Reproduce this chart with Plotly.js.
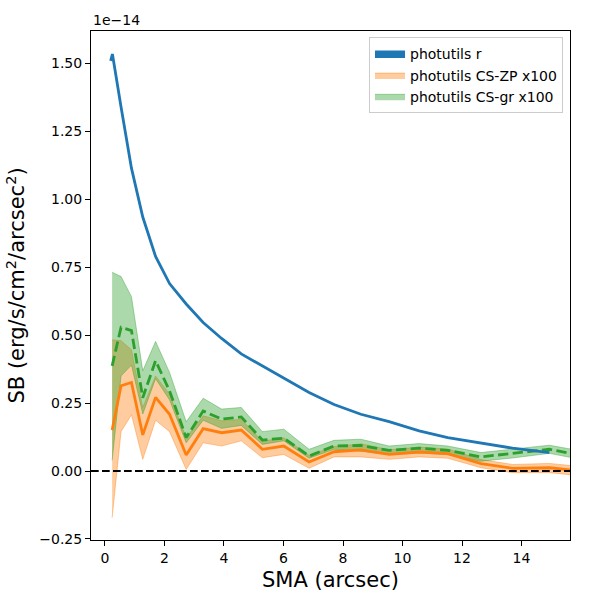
<!DOCTYPE html>
<html>
<head>
<meta charset="utf-8">
<script src="https://cdn.plot.ly/plotly-3.0.1.min.js"></script>
<style>html,body{margin:0;padding:0;background:#fff;}#chart{width:600px;height:600px;}</style>
</head>
<body>
<div id="chart"></div>
<script>
// SMA (arcsec)
const smaBlue = [0.19, 0.25, 0.54, 0.89, 1.27, 1.70, 2.17, 2.73, 3.30, 3.92, 4.58, 5.29, 6.01, 6.86, 7.70, 8.60, 9.55, 10.56, 11.52, 12.64, 13.70, 14.94];
const smaCS   = [0.24, 0.54, 0.89, 1.27, 1.70, 2.17, 2.73, 3.30, 3.92, 4.58, 5.29, 6.01, 6.86, 7.70, 8.60, 9.55, 10.56, 11.52, 12.64, 13.70, 14.94, 16.20];

// surface brightness in units of 1e-14 erg/s/cm^2/arcsec^2
const blueSB = [1.510, 1.535, 1.340, 1.115, 0.935, 0.790, 0.690, 0.615, 0.547, 0.488, 0.431, 0.387, 0.344, 0.289, 0.245, 0.209, 0.182, 0.148, 0.123, 0.104, 0.084, 0.068];

const zpMid = [0.151, 0.314, 0.326, 0.133, 0.271, 0.209, 0.059, 0.156, 0.141, 0.151, 0.080, 0.092, 0.033, 0.071, 0.078, 0.061, 0.070, 0.064, 0.027, 0.010, 0.012, -0.002];
const zpHi  = [0.483, 0.480, 0.446, 0.234, 0.350, 0.283, 0.123, 0.203, 0.185, 0.190, 0.110, 0.122, 0.057, 0.090, 0.100, 0.078, 0.088, 0.081, 0.042, 0.024, 0.028, 0.014];
const zpLo  = [-0.172, 0.145, 0.207, 0.043, 0.187, 0.145, 0.006, 0.104, 0.092, 0.111, 0.049, 0.061, 0.010, 0.052, 0.052, 0.043, 0.052, 0.047, 0.012, -0.006, -0.006, -0.020];

const grMid = [0.387, 0.529, 0.517, 0.270, 0.406, 0.295, 0.123, 0.221, 0.191, 0.199, 0.114, 0.121, 0.055, 0.092, 0.094, 0.076, 0.084, 0.076, 0.052, 0.064, 0.080, 0.052];
const grHi  = [0.732, 0.716, 0.642, 0.369, 0.477, 0.363, 0.181, 0.268, 0.228, 0.234, 0.145, 0.154, 0.080, 0.113, 0.117, 0.092, 0.101, 0.092, 0.068, 0.080, 0.095, 0.070];
const grLo  = [0.039, 0.350, 0.390, 0.210, 0.340, 0.262, 0.104, 0.187, 0.157, 0.168, 0.098, 0.111, 0.047, 0.080, 0.073, 0.060, 0.067, 0.060, 0.036, 0.048, 0.065, 0.038];

const xTicks = [0, 2, 4, 6, 8, 10, 12, 14];
const yTicks = [-0.25, 0, 0.25, 0.5, 0.75, 1.0, 1.25, 1.5];

const FONT = 'DejaVu Sans, sans-serif';
const orangeFill = 'rgba(255,127,14,0.4)';
const greenFill = 'rgba(44,160,44,0.4)';

const traces = [
  {x: smaCS, y: zpLo, mode: 'lines', line: {width: 1, color: orangeFill}, showlegend: false, hoverinfo: 'skip'},
  {x: smaCS, y: zpHi, mode: 'lines', line: {width: 1, color: orangeFill}, fill: 'tonexty', fillcolor: orangeFill,
   name: 'photutils CS-ZP x100', legendrank: 2},
  {x: smaCS, y: grLo, mode: 'lines', line: {width: 1, color: greenFill}, showlegend: false, hoverinfo: 'skip'},
  {x: smaCS, y: grHi, mode: 'lines', line: {width: 1, color: greenFill}, fill: 'tonexty', fillcolor: greenFill,
   name: 'photutils CS-gr x100', legendrank: 3},
  {x: smaCS, y: zpMid, mode: 'lines', line: {width: 2.8, color: '#ff7f0e'}, showlegend: false},
  {x: smaCS, y: grMid, mode: 'lines', line: {width: 2.8, color: '#2ca02c', dash: '10.3px,4.4px'}, showlegend: false},
  {x: smaBlue, y: blueSB, mode: 'lines', line: {width: 0, color: '#1f77b4'}, showlegend: false, hoverinfo: 'skip'},
  {x: smaBlue, y: blueSB, mode: 'lines', line: {width: 2.8, color: '#1f77b4'}, fill: 'tonexty', fillcolor: '#1f77b4',
   name: 'photutils r', legendrank: 1}
];

const axisCommon = {
  showline: true, mirror: true, linecolor: '#000', linewidth: 1,
  ticks: 'outside', ticklen: 5, tickwidth: 1, tickcolor: '#000',
  showgrid: false, zeroline: false,
  tickfont: {family: FONT, size: 14, color: '#000'}
};

const layout = {
  width: 600, height: 600, autosize: false,
  paper_bgcolor: '#fff', plot_bgcolor: '#fff',
  margin: {l: 91, r: 30, t: 31, b: 60, pad: 0},
  font: {family: FONT, size: 14, color: '#000'},
  xaxis: Object.assign({}, axisCommon, {
    range: [-0.47, 15.63], tickmode: 'array', tickvals: xTicks, ticktext: xTicks.map(String)
  }),
  yaxis: Object.assign({}, axisCommon, {
    range: [-0.254, 1.620], tickmode: 'array', tickvals: yTicks,
    ticktext: yTicks.map(v => (v < 0 ? '\u2212' : '') + Math.abs(v).toFixed(2))
  }),
  showlegend: true,
  legend: {
    x: 0.9854, xanchor: 'right', y: 0.9876, yanchor: 'top',
    bgcolor: 'rgba(255,255,255,0.8)', bordercolor: '#cccccc', borderwidth: 1,
    font: {family: FONT, size: 14, color: '#000'}, traceorder: 'normal'
  },
  shapes: [
    {type: 'line', xref: 'paper', x0: 0, x1: 1, yref: 'y', y0: 0, y1: 0,
     line: {color: '#000', width: 2, dash: '7.7px,3.3px'}, layer: 'above'}
  ],
  annotations: [
    {text: 'SMA (arcsec)', xref: 'paper', yref: 'paper', x: 0.5, y: 0, xanchor: 'center', yanchor: 'middle',
     yshift: -40, showarrow: false, font: {family: FONT, size: 21, color: '#000'}},
    {text: 'SB (erg/s/cm<sup>2</sup>/arcsec<sup>2</sup>)', xref: 'paper', yref: 'paper', x: 0, y: 0.5,
     xanchor: 'center', yanchor: 'middle', xshift: -76, textangle: -90, showarrow: false,
     font: {family: FONT, size: 21, color: '#000'}},
    {text: '1e\u221214', xref: 'paper', yref: 'paper', x: 0, y: 1, xanchor: 'left', yanchor: 'bottom',
     yshift: 1, showarrow: false, font: {family: FONT, size: 14, color: '#000'}}
  ]
};

Plotly.newPlot('chart', traces, layout, {displayModeBar: false, staticPlot: true});
</script>
</body>
</html>
